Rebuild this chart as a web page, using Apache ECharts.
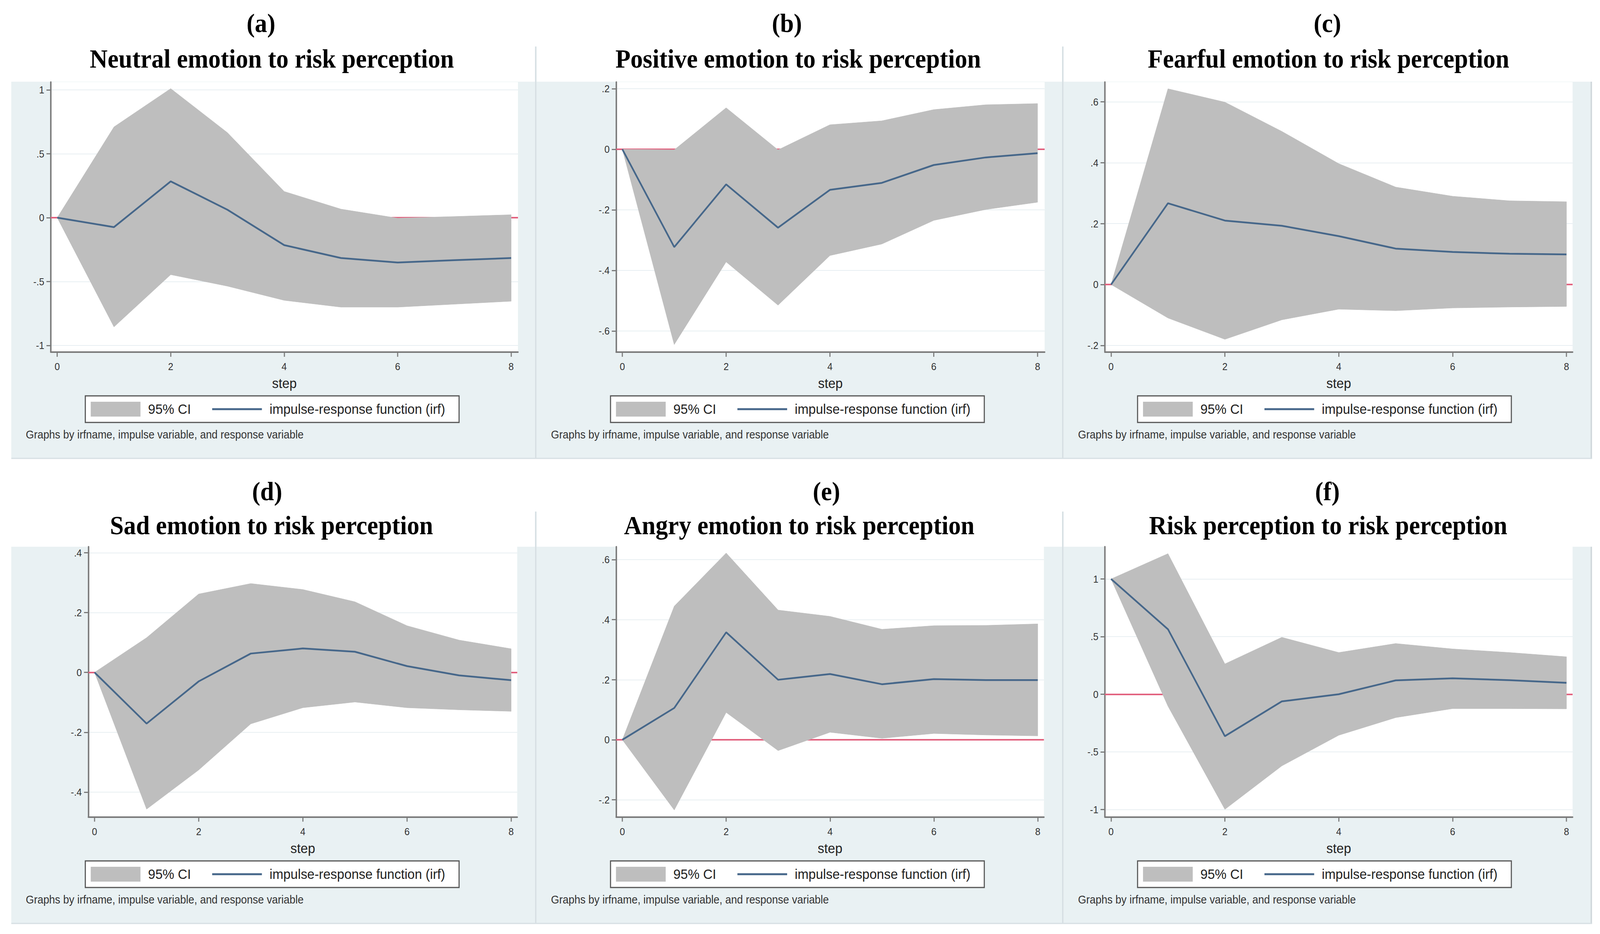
<!DOCTYPE html>
<html><head><meta charset="utf-8">
<script src="https://cdn.jsdelivr.net/npm/echarts@6/dist/echarts.min.js"></script>
<style>html,body{margin:0;padding:0;background:#fff;overflow:hidden}#c{width:4408px;height:2390px;transform-origin:0 0;position:absolute;left:0;top:0}</style>
</head><body><div id="c"></div>
<script>
// ---------------- data ----------------
const steps = [0, 1, 2, 3, 4, 5, 6, 7, 8];
const xTicks = [0, 2, 4, 6, 8];
const panelLetters = ['(a)', '(b)', '(c)', '(d)', '(e)', '(f)'];
const panelTitles = [
  'Neutral emotion to risk perception',
  'Positive emotion to risk perception',
  'Fearful emotion to risk perception',
  'Sad emotion to risk perception',
  'Angry emotion to risk perception',
  'Risk perception to risk perception'
];
const legendNames = ['95% CI', 'impulse-response function (irf)'];
const xAxisTitle = 'step';
const noteText = 'Graphs by irfname, impulse variable, and response variable';

const neutralUpper = [0, 0.71, 1.01, 0.665, 0.205, 0.067, -0.004, 0.009, 0.023];
const neutralIrf   = [0, -0.074, 0.284, 0.062, -0.215, -0.316, -0.351, -0.333, -0.316];
const neutralLower = [0, -0.855, -0.446, -0.536, -0.647, -0.70, -0.70, -0.677, -0.654];
const neutralTicks = [-1, -0.5, 0, 0.5, 1];

const positiveUpper = [0, -0.002, 0.137, -0.002, 0.081, 0.094, 0.131, 0.147, 0.151];
const positiveIrf   = [0, -0.323, -0.116, -0.259, -0.134, -0.111, -0.052, -0.027, -0.013];
const positiveLower = [0, -0.645, -0.372, -0.515, -0.351, -0.313, -0.235, -0.199, -0.175];
const positiveTicks = [-0.6, -0.4, -0.2, 0, 0.2];

const fearfulUpper = [0, 0.643, 0.599, 0.503, 0.397, 0.320, 0.290, 0.275, 0.272];
const fearfulIrf   = [0, 0.267, 0.210, 0.193, 0.159, 0.118, 0.107, 0.101, 0.099];
const fearfulLower = [0, -0.110, -0.180, -0.116, -0.081, -0.086, -0.077, -0.074, -0.072];
const fearfulTicks = [-0.2, 0, 0.2, 0.4, 0.6];

const sadUpper = [0, 0.116, 0.262, 0.297, 0.277, 0.236, 0.156, 0.108, 0.079];
const sadIrf   = [0, -0.171, -0.030, 0.063, 0.080, 0.069, 0.021, -0.010, -0.026];
const sadLower = [0, -0.457, -0.326, -0.172, -0.118, -0.099, -0.118, -0.125, -0.130];
const sadTicks = [-0.4, -0.2, 0, 0.2, 0.4];

const angryUpper = [0, 0.445, 0.622, 0.432, 0.411, 0.368, 0.380, 0.381, 0.386];
const angryIrf   = [0, 0.106, 0.358, 0.200, 0.219, 0.185, 0.202, 0.199, 0.199];
const angryLower = [0, -0.234, 0.091, -0.036, 0.025, 0.005, 0.021, 0.016, 0.013];
const angryTicks = [-0.2, 0, 0.2, 0.4, 0.6];

const riskUpper = [1, 1.22, 0.263, 0.494, 0.362, 0.44, 0.393, 0.362, 0.325];
const riskIrf   = [1, 0.564, -0.364, -0.062, 0.0, 0.12, 0.138, 0.122, 0.099];
const riskLower = [1, -0.104, -0.999, -0.622, -0.356, -0.203, -0.125, -0.125, -0.127];
const riskTicks = [-1, -0.5, 0, 0.5, 1];

const panelData = [
  { upper: neutralUpper, irf: neutralIrf, lower: neutralLower, ticks: neutralTicks },
  { upper: positiveUpper, irf: positiveIrf, lower: positiveLower, ticks: positiveTicks },
  { upper: fearfulUpper, irf: fearfulIrf, lower: fearfulLower, ticks: fearfulTicks },
  { upper: sadUpper, irf: sadIrf, lower: sadLower, ticks: sadTicks },
  { upper: angryUpper, irf: angryIrf, lower: angryLower, ticks: angryTicks },
  { upper: riskUpper, irf: riskIrf, lower: riskLower, ticks: riskTicks }
];

// ---------------- layout (pixels / axis extents) ----------------
const W = 4408, H = 2390;
const rowTop = [209, 1399];
const rowBottom = [1172, 2362];
const colLeft = [31, 1478, 2930];
const colRight = [1474, 2926, 4382];
const layout = [
  { row: 0, col: 0, L: 140,    R: 1427,   T: 210,  B: 901,    xMin: -0.113, xMax: 8.12,  yMin: -1.052, yMax: 1.061, letterX: 719,  titleX: 749 },
  { row: 0, col: 1, L: 1697.5, R: 2878,   T: 210,  B: 901,    xMin: -0.119, xMax: 8.137, yMin: -0.670, yMax: 0.222, letterX: 2168, titleX: 2199 },
  { row: 0, col: 2, L: 3044,   R: 4332.5, T: 210,  B: 901,    xMin: -0.108, xMax: 8.108, yMin: -0.222, yMax: 0.665, letterX: 3657, titleX: 3660 },
  { row: 1, col: 0, L: 243.5,  R: 1425,   T: 1399, B: 2090.5, xMin: -0.118, xMax: 8.117, yMin: -0.483, yMax: 0.420, letterX: 736,  titleX: 748 },
  { row: 1, col: 1, L: 1697.5, R: 2876,   T: 1399, B: 2090.5, xMin: -0.119, xMax: 8.119, yMin: -0.257, yMax: 0.643, letterX: 2277, titleX: 2202 },
  { row: 1, col: 2, L: 3044,   R: 4332.5, T: 1399, B: 2090.5, xMin: -0.108, xMax: 8.108, yMin: -1.065, yMax: 1.280, letterX: 3657, titleX: 3659 }
];
const letterBase = [81, 1279];
const titleBase = [172, 1366];

// ---------------- styles ----------------
const C_BG = '#E9F1F3';
const C_CI = '#BEBEBE';
const C_IRF = '#46678A';
const C_ZERO = '#E2627F';
const C_AXIS = '#7A7A7A';
const SANS = 'Liberation Sans';

function fmtTick(v) {
  const s = String(Math.round(v * 100) / 100);
  return s.replace(/^(-?)0\./, '$1.');
}

const grids = [], xAxes = [], yAxes = [], series = [], legends = [], graphics = [];

// panel backgrounds & separators
for (let r = 0; r < 2; r++) {
  for (let c = 0; c < 3; c++) {
    graphics.push({ type: 'rect', z: -10, silent: true,
      shape: { x: colLeft[c], y: rowTop[r], width: colRight[c] - colLeft[c], height: rowBottom[r] - rowTop[r] },
      style: { fill: C_BG } });
  }
  [1476, 2928].forEach(x => graphics.push({ type: 'line', z: -9, silent: true,
    shape: { x1: x, y1: rowTop[r] - 90, x2: x, y2: rowBottom[r] },
    style: { stroke: '#D6DFE3', lineWidth: 4 } }));
  graphics.push({ type: 'line', z: -9, silent: true,
    shape: { x1: 4384, y1: rowTop[r], x2: 4384, y2: rowBottom[r] + 2 },
    style: { stroke: '#CFD7DB', lineWidth: 4 } });
  graphics.push({ type: 'line', z: -9, silent: true,
    shape: { x1: 31, y1: rowBottom[r] + 1, x2: 4386, y2: rowBottom[r] + 1 },
    style: { stroke: '#D6DFE3', lineWidth: 3 } });
}

layout.forEach((l, i) => {
  const d = panelData[i];
  const pl = colLeft[l.col], rt = rowTop[l.row];
  grids.push({ left: l.L, top: l.T, width: l.R - l.L, height: l.B - l.T, show: true,
    backgroundColor: '#ffffff', borderWidth: 0, containLabel: false, outerBoundsMode: 'none' });
  xAxes.push({ type: 'value', gridIndex: i, min: l.xMin, max: l.xMax,
    name: xAxisTitle, nameLocation: 'middle', nameGap: 62,
    nameTextStyle: { fontSize: 36, color: '#222', fontFamily: SANS },
    axisLine: { show: true, onZero: false, lineStyle: { color: C_AXIS, width: 4 } },
    axisTick: { show: true, length: 12, customValues: xTicks, lineStyle: { color: C_AXIS, width: 3 } },
    axisLabel: { customValues: xTicks, margin: 24, fontSize: 26, color: '#333', fontFamily: SANS },
    splitLine: { show: false } });
  yAxes.push({ type: 'value', gridIndex: i, min: l.yMin, max: l.yMax,
    axisLine: { show: true, onZero: false, lineStyle: { color: C_AXIS, width: 4 } },
    axisTick: { show: true, length: 12, customValues: d.ticks, lineStyle: { color: C_AXIS, width: 3 } },
    axisLabel: { customValues: d.ticks, margin: 18, fontSize: 26, color: '#333', fontFamily: SANS, formatter: fmtTick },
    splitLine: { show: true, lineStyle: { color: '#E8EFF2', width: 2 } } });

  // zero reference line (drawn beneath the band)
  series.push({ type: 'line', name: 'zero' + i, xAxisIndex: i, yAxisIndex: i,
    symbol: 'none', silent: true, z: 1, lineStyle: { width: 0, opacity: 0 },
    data: steps.map((s, k) => [s, d.irf[k]]),
    markLine: { silent: true, symbol: 'none', z: 1, label: { show: false }, animation: false,
      lineStyle: { color: C_ZERO, width: 4, type: 'solid' }, data: [{ yAxis: 0 }] } });
  // 95% CI band as one polygon through the axis scales
  const bandRows = steps.map((s, k) => [s, d.lower[k], d.upper[k]]);
  series.push({ type: 'custom', name: legendNames[0], xAxisIndex: i, yAxisIndex: i,
    silent: true, z: 3, clip: true, color: C_CI, itemStyle: { color: C_CI },
    encode: { x: 0, y: [1, 2] },
    data: bandRows,
    renderItem: function (params, api) {
      if (params.dataIndex !== 0) return null;
      const top = bandRows.map(r => api.coord([r[0], r[2]]));
      const bot = bandRows.map(r => api.coord([r[0], r[1]])).reverse();
      return { type: 'polygon', shape: { points: top.concat(bot) },
        style: { fill: C_CI, stroke: C_CI, lineWidth: 1 } };
    } });
  series.push({ type: 'line', name: legendNames[1], xAxisIndex: i, yAxisIndex: i,
    symbol: 'none', silent: true, z: 4, color: C_IRF,
    lineStyle: { width: 4.5, color: C_IRF },
    data: steps.map((s, k) => [s, d.irf[k]]) });

  legends.push({ left: pl + 204, top: rt + 804, orient: 'horizontal', selectedMode: false,
    backgroundColor: '#ffffff', borderColor: '#555555', borderWidth: 3, borderRadius: 0,
    padding: [15, 38, 15, 15], itemGap: 56, itemWidth: 137, itemHeight: 38,
    textStyle: { fontSize: 36, color: '#222', fontFamily: SANS, padding: [0, 0, 0, 16] },
    data: [ { name: legendNames[0], icon: 'rect', itemStyle: { color: C_CI } },
            { name: legendNames[1], itemStyle: { color: 'rgba(0,0,0,0)', borderWidth: 0, opacity: 0 },
              lineStyle: { color: C_IRF, width: 5 } } ] });

  graphics.push({ type: 'text', z: 5, silent: true,
    style: { text: panelLetters[i], x: l.letterX, y: letterBase[l.row] - 22, textAlign: 'center', textVerticalAlign: 'middle',
      font: 'bold 68px "Liberation Serif"', fill: '#000' } });
  graphics.push({ type: 'text', z: 5, silent: true,
    style: { text: panelTitles[i], x: l.titleX, y: titleBase[l.row] - 22, textAlign: 'center', textVerticalAlign: 'middle',
      font: 'bold 68px "Liberation Serif"', fill: '#000' } });
  graphics.push({ type: 'text', z: 5, silent: true,
    style: { text: noteText, x: pl + 40, y: rt + 903, textAlign: 'left', textVerticalAlign: 'middle',
      font: '29px "Liberation Sans"', fill: '#333' } });
});

const el = document.getElementById('c');
const vw = window.innerWidth || document.documentElement.clientWidth || W;
const vh = window.innerHeight || document.documentElement.clientHeight || H;
if (Math.abs(vw - W) > 1 || Math.abs(vh - H) > 1) {
  el.style.transform = 'scale(' + (vw / W) + ',' + (vh / H) + ')';
}
const chart = echarts.init(el, null, { renderer: 'svg', width: W, height: H });
chart.setOption({
  animation: false,
  backgroundColor: '#ffffff',
  textStyle: { fontFamily: SANS },
  grid: grids, xAxis: xAxes, yAxis: yAxes, series: series, legend: legends,
  graphic: { elements: graphics }
});
</script></body></html>
